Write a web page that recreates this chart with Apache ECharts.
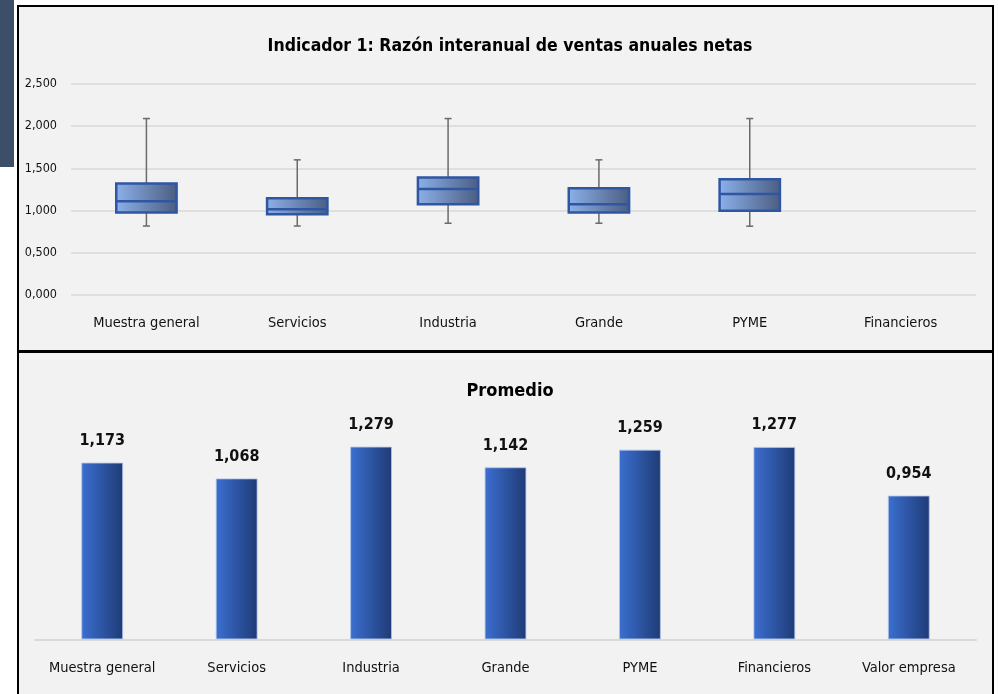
<!DOCTYPE html>
<html>
<head>
<meta charset="utf-8">
<script src="https://cdn.jsdelivr.net/npm/echarts@6/dist/echarts.min.js"></script>
<style>
  html, body { margin: 0; padding: 0; background: #fff; }
  #strip { position: absolute; left: 0; top: 0; width: 14px; height: 167px; background: #3d4e68; }
  .panel { position: absolute; box-sizing: border-box; background: #f2f2f2; border: 2px solid #000; }
  #p1 { left: 17px; top: 5px; width: 977px; height: 348px; }
  #p2 { left: 17px; top: 350px; width: 977px; height: 360px; border-top-width: 3px; }
  #chart { position: absolute; left: 0; top: 0; width: 998px; height: 694px; }
</style>
</head>
<body>
<div id="strip"></div>
<div class="panel" id="p1"></div>
<div class="panel" id="p2"></div>
<div id="chart"></div>
<script>
// caja: Indicador 1
var categorias = ["Muestra general", "Servicios", "Industria", "Grande", "PYME", "Financieros"];
var cajaMin = [0.815, 0.815, 0.848, 0.848, 0.813];
var cajaQ1 = [0.975, 0.955, 1.073, 0.975, 0.997];
var cajaMediana = [1.11, 1.015, 1.255, 1.073, 1.195];
var cajaQ3 = [1.32, 1.145, 1.39, 1.263, 1.37];
var cajaMax = [2.09, 1.60, 2.09, 1.60, 2.09];
var ticksY = [0, 0.5, 1, 1.5, 2, 2.5];

// barras: Promedio
var categorias2 = ["Muestra general", "Servicios", "Industria", "Grande", "PYME", "Financieros", "Valor empresa"];
var promedio = [1.173, 1.068, 1.279, 1.142, 1.259, 1.277, 0.954];

var FONT = "'Liberation Sans Narrow', 'DejaVu Sans Condensed', sans-serif";
function fmt(v) { return Number(v).toFixed(3).replace(".", ","); }

var boxData = cajaMin.map(function (m, i) {
  return [i, m, cajaQ1[i], cajaMediana[i], cajaQ3[i], cajaMax[i]];
});

function renderBox(params, api) {
  var x = api.value(0);
  var pMin = api.coord([x, api.value(1)]);
  var pQ1 = api.coord([x, api.value(2)]);
  var pMed = api.coord([x, api.value(3)]);
  var pQ3 = api.coord([x, api.value(4)]);
  var pMax = api.coord([x, api.value(5)]);
  var w = api.size([1, 0])[0] * 0.4;
  var cx = pMed[0];
  var cap = 3.5;
  var whisk = { stroke: "#6a6a6a", lineWidth: 1.5 };
  return {
    type: "group",
    children: [
      { type: "line", shape: { x1: cx, y1: pMax[1], x2: cx, y2: pQ3[1] }, style: whisk },
      { type: "line", shape: { x1: cx - cap, y1: pMax[1], x2: cx + cap, y2: pMax[1] }, style: whisk },
      { type: "line", shape: { x1: cx, y1: pQ1[1], x2: cx, y2: pMin[1] }, style: whisk },
      { type: "line", shape: { x1: cx - cap, y1: pMin[1], x2: cx + cap, y2: pMin[1] }, style: whisk },
      {
        type: "rect",
        shape: { x: cx - w / 2, y: pQ3[1], width: w, height: pQ1[1] - pQ3[1] },
        style: {
          fill: new echarts.graphic.LinearGradient(0, 0, 1, 0, [
            { offset: 0, color: "#8db1ea" },
            { offset: 1, color: "#4a5d80" }
          ]),
          stroke: "#2f56a3",
          lineWidth: 2.5
        }
      },
      { type: "line", shape: { x1: cx - w / 2, y1: pMed[1], x2: cx + w / 2, y2: pMed[1] }, style: { stroke: "#2f56a3", lineWidth: 2.5 } }
    ]
  };
}

var chart = echarts.init(document.getElementById("chart"));
var option = {
  animation: false,
  textStyle: { fontFamily: FONT },
  title: [
    {
      text: "Indicador 1: Razón interanual de ventas anuales netas",
      left: 505, top: 32, textAlign: "center",
      textStyle: { fontFamily: FONT, fontSize: 17.5, fontWeight: "bold", color: "#000" }
    },
    {
      text: "Promedio",
      left: 505, top: 377, textAlign: "center",
      textStyle: { fontFamily: FONT, fontSize: 18, fontWeight: "bold", color: "#000" }
    }
  ],
  grid: [
    { left: 71, right: 22, top: 84, bottom: 399.3 },
    { left: 35, right: 22, top: 428.5, bottom: 54.7 }
  ],
  xAxis: [
    {
      type: "category", gridIndex: 0, data: categorias,
      axisLine: { show: false }, axisTick: { show: false },
      axisLabel: { interval: 0, margin: 21, fontSize: 14.5, color: "#111", fontFamily: FONT }
    },
    {
      type: "category", gridIndex: 1, data: categorias2,
      axisLine: { show: true, lineStyle: { color: "#d9d9d9", width: 2 } },
      axisTick: { show: false },
      axisLabel: { interval: 0, margin: 21, fontSize: 14.5, color: "#111", fontFamily: FONT }
    }
  ],
  yAxis: [
    {
      type: "value", gridIndex: 0,
      min: ticksY[0], max: ticksY[ticksY.length - 1], interval: 0.5,
      axisLine: { show: false }, axisTick: { show: false },
      axisLabel: { margin: 14, fontSize: 12.5, color: "#111", fontFamily: FONT, formatter: fmt },
      splitLine: { lineStyle: { color: "#d9d9d9", width: 1.5 } }
    },
    {
      type: "value", gridIndex: 1, min: 0, max: 1.4, show: false
    }
  ],
  series: [
    {
      type: "custom", xAxisIndex: 0, yAxisIndex: 0,
      renderItem: renderBox, data: boxData,
      encode: { x: 0, y: [1, 2, 3, 4, 5] }
    },
    {
      type: "bar", xAxisIndex: 1, yAxisIndex: 1, data: promedio,
      barWidth: "31%",
      itemStyle: {
        color: new echarts.graphic.LinearGradient(0, 0, 1, 0, [
          { offset: 0, color: "#3b6fd0" },
          { offset: 1, color: "#1f3b76" }
        ]),
        borderColor: "#b0c4e6", borderWidth: 0.8
      },
      label: {
        show: true, position: "top", distance: 14,
        fontFamily: FONT, fontSize: 16, fontWeight: "bold", color: "#111",
        formatter: function (p) { return fmt(p.value); }
      }
    }
  ]
};
chart.setOption(option);
</script>
</body>
</html>
